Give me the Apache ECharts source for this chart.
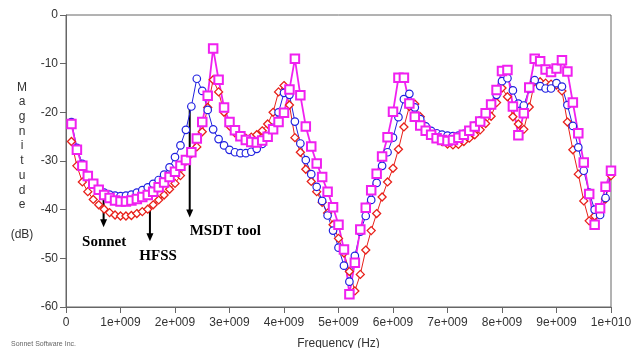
<!DOCTYPE html>
<html>
<head>
<meta charset="utf-8">
<script src="https://cdn.jsdelivr.net/npm/echarts@6/dist/echarts.min.js"></script>
<style>
  html, body { margin: 0; padding: 0; background: #fff; }
  #chart { width: 633px; height: 348px; }
</style>
</head>
<body>
<div id="chart"></div>
<script>
// Frequency samples, in units of 1e9 Hz
const freq = [
  0.1,0.2,0.3,0.4,0.5,0.6,0.7,0.8,0.9,1.0,
  1.1,1.2,1.3,1.4,1.5,1.6,1.7,1.8,1.9,2.0,
  2.1,2.2,2.3,2.4,2.5,2.6,2.7,2.8,2.9,3.0,
  3.1,3.2,3.3,3.4,3.5,3.6,3.7,3.8,3.9,4.0,
  4.1,4.2,4.3,4.4,4.5,4.6,4.7,4.8,4.9,5.0,
  5.1,5.2,5.3,5.4,5.5,5.6,5.7,5.8,5.9,6.0,
  6.1,6.2,6.3,6.4,6.5,6.6,6.7,6.8,6.9,7.0,
  7.1,7.2,7.3,7.4,7.5,7.6,7.7,7.8,7.9,8.0,
  8.1,8.2,8.3,8.4,8.5,8.6,8.7,8.8,8.9,9.0,
  9.1,9.2,9.3,9.4,9.5,9.6,9.7,9.8,9.9,10.0
];

// Magnitude (dB) – MSDT tool (blue circles)
const msdt = [
  -22.0,-27.3,-30.6,-32.9,-34.6,-35.8,-36.5,-36.9,-37.1,-37.2,
  -37.1,-36.9,-36.5,-36.0,-35.4,-34.7,-33.9,-32.8,-31.3,-29.2,
  -26.8,-23.6,-18.8,-13.1,-15.6,-19.5,-23.5,-25.5,-26.8,-27.7,
  -28.2,-28.4,-28.4,-28.1,-27.5,-26.5,-25.0,-23.2,-20.0,-16.0,
  -16.4,-21.9,-26.4,-29.8,-32.7,-35.3,-38.2,-41.2,-44.3,-47.8,
  -51.5,-54.8,-49.5,-44.5,-41.3,-38.0,-34.5,-31.0,-28.2,-25.2,
  -21.0,-17.3,-16.2,-19.0,-21.4,-22.9,-23.8,-24.3,-24.6,-24.8,
  -24.9,-24.8,-24.4,-23.7,-22.8,-21.7,-20.3,-18.5,-16.4,-13.6,
  -13.0,-15.5,-18.2,-18.6,-15.2,-13.4,-14.6,-15.1,-15.1,-14.0,
  -14.7,-18.5,-22.8,-27.2,-32.0,-36.5,-40.0,-41.1,-37.6,-32.0
];

// Magnitude (dB) – HFSS (red diamonds)
const hfss = [
  -26.0,-31.0,-34.3,-36.3,-37.9,-39.0,-39.9,-40.6,-41.1,-41.3,
  -41.3,-41.2,-40.8,-40.4,-39.9,-39.0,-38.0,-37.0,-35.8,-34.6,
  -33.0,-30.0,-28.5,-27.1,-24.0,-19.0,-13.3,-15.8,-20.0,-22.8,
  -24.2,-24.9,-25.3,-25.1,-24.6,-23.8,-22.4,-20.0,-15.8,-14.5,
  -18.5,-25.2,-28.2,-31.7,-34.2,-36.3,-38.5,-40.7,-43.1,-45.9,
  -48.9,-52.7,-56.7,-53.3,-48.3,-44.3,-40.8,-37.4,-34.3,-31.5,
  -27.6,-23.0,-18.8,-18.3,-20.9,-22.9,-24.0,-25.1,-26.0,-26.5,
  -26.7,-26.6,-26.0,-25.3,-24.6,-23.6,-22.3,-20.8,-18.0,-15.0,
  -16.8,-20.9,-22.4,-23.5,-18.9,-13.7,-13.7,-14.0,-14.2,-14.4,
  -15.6,-22.0,-27.7,-32.7,-38.2,-42.3,-41.3,-40.0,-37.8,-33.0
];

// Magnitude (dB) – Sonnet (magenta squares)
const sonnet = [
  -22.4,-27.7,-31.0,-33.1,-34.7,-35.9,-37.0,-37.6,-38.1,-38.3,
  -38.3,-38.1,-37.8,-37.4,-37.0,-36.3,-35.4,-34.4,-33.3,-32.2,
  -31.0,-29.8,-28.2,-25.4,-22.0,-16.6,-6.9,-13.3,-19.0,-22.0,
  -23.7,-24.9,-25.7,-26.1,-26.2,-25.8,-25.0,-23.5,-22.0,-20.1,
  -15.3,-9.0,-16.5,-22.9,-27.0,-30.5,-33.3,-36.3,-39.5,-43.1,
  -48.2,-57.4,-50.9,-44.1,-39.6,-36.0,-32.6,-29.1,-25.1,-19.9,
  -12.9,-12.9,-18.2,-20.9,-22.7,-23.8,-24.6,-25.3,-25.7,-25.9,
  -25.7,-25.2,-24.6,-23.8,-22.9,-21.9,-20.2,-18.4,-15.4,-11.5,
  -11.3,-18.8,-24.7,-20.2,-14.9,-9.0,-9.5,-11.2,-11.7,-11.0,
  -9.3,-11.6,-18.0,-24.3,-30.3,-36.8,-43.1,-39.7,-35.3,-32.0
];

// Frequency axis tick labels (one per 1e9 Hz)
const xTickLabels = ['0','1e+009','2e+009','3e+009','4e+009','5e+009',
                     '6e+009','7e+009','8e+009','9e+009','1e+010'];

// Arrow call-outs naming each solver: arrow tail, arrow tip, text anchor (data units)
const callouts = [
  { text: 'Sonnet',    tail: [0.69, -37.2], tip: [0.69, -43.6], at: [0.70, -46.7], align: 'center' },
  { text: 'HFSS',      tail: [1.54, -39.6], tip: [1.54, -46.5], at: [1.69, -49.6], align: 'center' },
  { text: 'MSDT tool', tail: [2.27, -18.9], tip: [2.27, -41.6], at: [2.27, -44.4], align: 'left' }
];

const pairs = vals => freq.map((f, i) => [f, vals[i]]);

const chart = echarts.init(document.getElementById('chart'), null, { renderer: 'canvas' });

const axisText = { color: '#333', fontFamily: 'Liberation Sans, Arial, sans-serif', fontSize: 12 };

// Hollow markers: white fill with a thin coloured outline
function lineSeries(name, values, color, symbol, size, lineWidth, markerWidth) {
  return {
    name, type: 'line', data: pairs(values),
    symbol, symbolSize: size,
    lineStyle: { color, width: lineWidth },
    itemStyle: { color: '#fff', borderColor: color, borderWidth: markerWidth },
    emphasis: { disabled: true }
  };
}

chart.setOption({
  animation: false,
  backgroundColor: '#fff',
  grid: {
    left: 66, top: 15, right: 22, bottom: 41,
    containLabel: false, outerBoundsMode: 'none',
    show: true, borderColor: '#666', borderWidth: 1, backgroundColor: 'transparent'
  },
  xAxis: {
    type: 'value', min: 0, max: 10, interval: 1,
    name: 'Frequency (Hz)', nameLocation: 'middle', nameGap: 31,
    nameTextStyle: axisText,
    axisLine: { onZero: false, lineStyle: { color: '#666', width: 1 } },
    axisTick: { show: true, inside: false, length: 6, lineStyle: { color: '#666' } },
    axisLabel: Object.assign({ margin: 10, formatter: v => xTickLabels[Math.round(v)] }, axisText),
    splitLine: { show: false }
  },
  yAxis: {
    type: 'value', min: -60, max: 0, interval: 10,
    axisLine: { show: true, onZero: false, lineStyle: { color: '#666', width: 1 } },
    axisTick: { show: true, inside: false, length: 6, lineStyle: { color: '#666' } },
    axisLabel: Object.assign({ margin: 8 }, axisText),
    splitLine: { show: false }
  },
  series: [
    lineSeries('HFSS', hfss, '#e8201a', 'diamond', 8, 1, 1.3),
    lineSeries('MSDT tool', msdt, '#2020e0', 'circle', 7.5, 1, 1.2),
    lineSeries('Sonnet', sonnet, '#f020f0', 'rect', 8.5, 1.8, 2)
  ]
});

// Axis title drawn as stacked letters, plus the footer credit
const graphics = [
  {
    type: 'text', x: 22, y: 80,
    style: {
      text: 'M\na\ng\nn\ni\nt\nu\nd\ne\n\n(dB)',
      align: 'center', verticalAlign: 'top', lineHeight: 14.7,
      fill: '#333', font: '12px "Liberation Sans", Arial, sans-serif'
    }
  },
  {
    type: 'text', x: 11, y: 344,
    style: { text: 'Sonnet Software Inc.', verticalAlign: 'middle', fill: '#666', font: '7px "Liberation Sans", Arial, sans-serif' }
  }
];

// Arrows and solver names, placed through the grid's coordinate system
callouts.forEach(c => {
  const p0 = chart.convertToPixel({ gridIndex: 0 }, c.tail);
  const p1 = chart.convertToPixel({ gridIndex: 0 }, c.tip);
  const pt = chart.convertToPixel({ gridIndex: 0 }, c.at);
  const head = 8, half = 3.5;
  graphics.push({
    type: 'line', silent: true,
    shape: { x1: p0[0], y1: p0[1], x2: p1[0], y2: p1[1] - head + 1 },
    style: { stroke: '#000', lineWidth: 2 }
  });
  graphics.push({
    type: 'polygon', silent: true,
    shape: { points: [[p1[0] - half, p1[1] - head], [p1[0] + half, p1[1] - head], [p1[0], p1[1]]] },
    style: { fill: '#000' }
  });
  graphics.push({
    type: 'text', silent: true, x: pt[0], y: pt[1],
    style: { text: c.text, align: c.align, verticalAlign: 'middle', fill: '#000',
             font: 'bold 15px "Liberation Serif", "Times New Roman", serif' }
  });
});

chart.setOption({ graphic: graphics });
</script>
</body>
</html>
